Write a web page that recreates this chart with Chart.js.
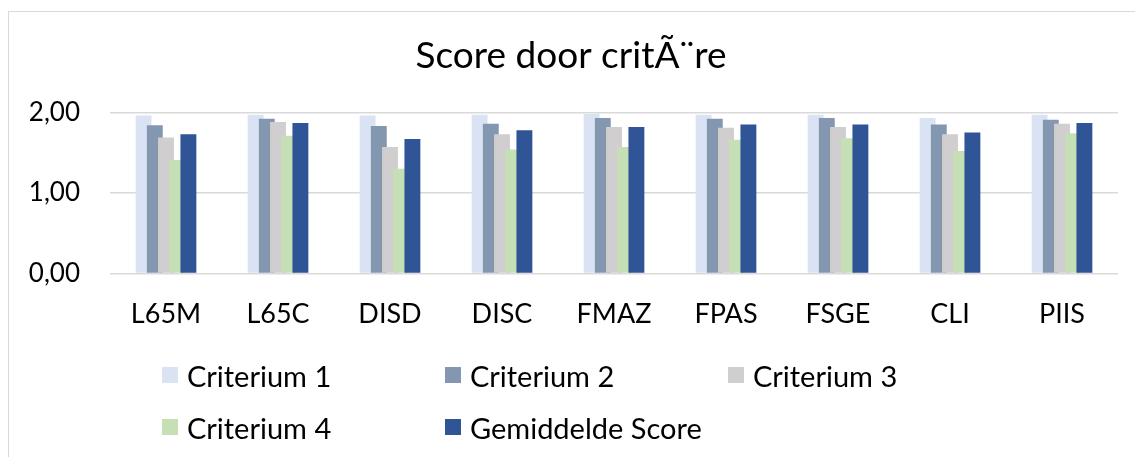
<!DOCTYPE html>
<html>
<head>
<meta charset="utf-8">
<script src="https://cdn.jsdelivr.net/npm/chart.js@4/dist/chart.umd.min.js"></script>
<style>
    body { margin: 0; background: #fff; overflow: hidden; }
    #wrap { position: relative; width: 1135px; height: 457px; }
    #frame { position: absolute; left: 8px; top: 11px; width: 1140px; height: 460px; border: 1px solid #d9d9d9; box-sizing: border-box; }
    #chartBox { position: absolute; left: 0; top: 0; width: 1135px; height: 457px; }
    .legendItem { position: absolute; display: flex; align-items: center; font-family: Lato, "Open Sans", sans-serif; font-size: 29px; color: #000; white-space: nowrap; height: 34px; margin-top: -17px; }
    .legendItem span.box { display: inline-block; width: 16px; height: 16px; margin-right: 9px; }
</style>
</head>
<body>
<div id="wrap">
    <div id="frame"></div>
    <div id="chartBox"><canvas id="graficoScore"></canvas></div>
    <div id="legend"></div>
</div>
<script>
const titel = 'Score door critÃ¨re';
const categorieen = ['L65M', 'L65C', 'DISD', 'DISC', 'FMAZ', 'FPAS', 'FSGE', 'CLI', 'PIIS'];
const reeksNamen = ['Criterium 1', 'Criterium 2', 'Criterium 3', 'Criterium 4', 'Gemiddelde Score'];
const criterium1 = [1.96, 1.97, 1.96, 1.97, 1.98, 1.97, 1.97, 1.93, 1.97];
const criterium2 = [1.84, 1.92, 1.83, 1.86, 1.93, 1.92, 1.93, 1.85, 1.91];
const criterium3 = [1.69, 1.88, 1.57, 1.73, 1.82, 1.81, 1.82, 1.73, 1.86];
const criterium4 = [1.41, 1.71, 1.30, 1.54, 1.57, 1.66, 1.68, 1.52, 1.74];
const gemiddelde = [1.73, 1.87, 1.67, 1.78, 1.82, 1.85, 1.85, 1.75, 1.87];
const yTickLabels = ['0,00', '1,00', '2,00'];
const kleuren = ['#dae3f3', '#8497b0', '#d0cece', '#c5e0b4', '#2f5597'];

const reeksen = [criterium1, criterium2, criterium3, criterium4, gemiddelde];
const fontFam = 'Lato, "Open Sans", sans-serif';

// Excel draws the later series on top: draw datasets in index order
const tekenVolgorde = {
    id: 'tekenVolgorde',
    beforeDatasetsDraw(chart) {
        for (let i = 0; i < chart.data.datasets.length; i++) {
            chart.getDatasetMeta(i).controller.draw();
        }
        return false;
    }
};

const config = {
    type: 'bar',
    data: {
        labels: categorieen,
        datasets: reeksen.map((d, i) => ({
            label: reeksNamen[i],
            data: d,
            backgroundColor: kleuren[i],
            borderWidth: 0,
            barPercentage: 1.42,
            categoryPercentage: 0.5
        }))
    },
    options: {
        responsive: true,
        maintainAspectRatio: false,
        animation: false,
        layout: { padding: { left: 24, right: 17, top: 0, bottom: 103 } },
        plugins: {
            legend: { display: false },
            tooltip: { enabled: false },
            title: {
                display: true,
                text: titel,
                color: '#000',
                font: { family: fontFam, size: 37, weight: 'normal' },
                padding: { top: 34, bottom: 34 }
            }
        },
        scales: {
            x: {
                grid: { display: false, drawTicks: false },
                border: { display: false },
                ticks: { color: '#000', padding: 24, font: { family: fontFam, size: 27 } }
            },
            y: {
                min: 0,
                max: 2,
                afterFit: (scale) => { scale.width = 86; },
                grid: { color: '#d9d9d9', lineWidth: 1.5, drawTicks: false },
                border: { display: false },
                ticks: {
                    stepSize: 1,
                    color: '#000',
                    padding: 30,
                    font: { family: fontFam, size: 26 },
                    callback: (v, idx) => yTickLabels[idx]
                }
            }
        }
    },
    plugins: [tekenVolgorde]
};

new Chart(document.getElementById('graficoScore'), config);

// legend in Excel-like columns
const legendPos = [[162, 375], [445, 375], [728, 375], [162, 427], [445, 427]];
const legend = document.getElementById('legend');
reeksNamen.forEach((naam, i) => {
    const item = document.createElement('div');
    item.className = 'legendItem';
    item.style.left = legendPos[i][0] + 'px';
    item.style.top = legendPos[i][1] + 'px';
    const box = document.createElement('span');
    box.className = 'box';
    box.style.background = kleuren[i];
    item.appendChild(box);
    item.appendChild(document.createTextNode(naam));
    legend.appendChild(item);
});
</script>
</body>
</html>
